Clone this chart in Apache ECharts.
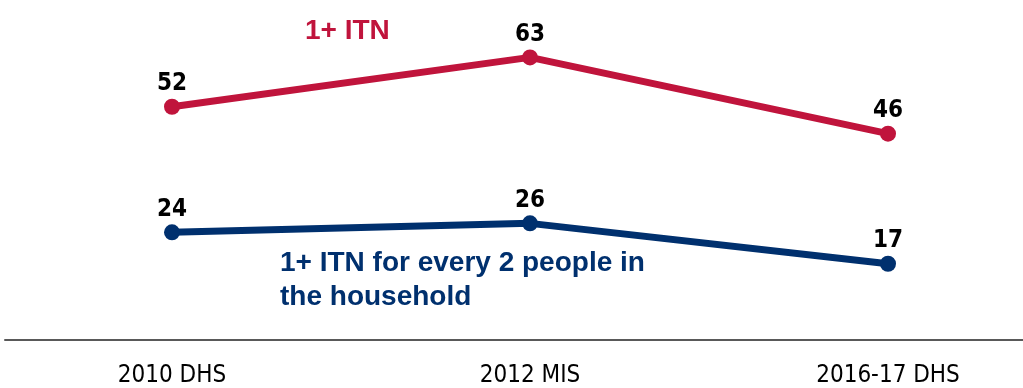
<!DOCTYPE html>
<html>
<head>
<meta charset="utf-8">
<script src="https://cdn.jsdelivr.net/npm/echarts@6/dist/echarts.min.js"></script>
<style>
  html, body { margin: 0; padding: 0; background: #fff; }
  #chart { width: 1023px; height: 388px; }
</style>
</head>
<body>
<div id="chart"></div>
<script>
// Survey rounds and household ITN ownership (%)
const categories = ['2010 DHS', '2012 MIS', '2016-17 DHS'];
const anyItn = [52, 63, 46];
const itnPerTwo = [24, 26, 17];
const seriesNames = ['1+ ITN', '1+ ITN for every 2 people in\nthe household'];

const RED = '#C0143C';
const NAVY = '#00306E';
const NARROW = '"Liberation Sans Narrow", "DejaVu Sans Condensed", sans-serif';

const chart = echarts.init(document.getElementById('chart'));

const valueLabel = {
  show: true,
  position: 'top',
  distance: 3,
  color: '#000',
  fontFamily: NARROW,
  fontWeight: 'bold',
  fontSize: 24
};

chart.setOption({
  animation: false,
  grid: [
    { left: 172, right: 135, top: 26, bottom: 48 },
    { left: 5, right: 0, top: 26, bottom: 48 }
  ],
  xAxis: [
    {
      type: 'category',
      gridIndex: 0,
      data: categories,
      boundaryGap: false,
      axisLine: { show: false },
      axisTick: { show: false },
      axisLabel: {
        margin: 24,
        color: '#000',
        fontFamily: NARROW,
        fontSize: 24
      }
    },
    {
      type: 'category',
      gridIndex: 1,
      data: [],
      axisLine: { show: true, lineStyle: { color: '#595959', width: 2 } },
      axisTick: { show: false },
      axisLabel: { show: false }
    }
  ],
  yAxis: [
    { type: 'value', gridIndex: 0, min: 0, max: 70, show: false },
    { type: 'value', gridIndex: 1, min: 0, max: 70, show: false }
  ],
  graphic: [
    {
      type: 'text',
      left: 305,
      top: 17,
      style: {
        text: seriesNames[0],
        fill: RED,
        font: 'bold 28px "Liberation Sans", Arial, sans-serif'
      }
    },
    {
      type: 'text',
      left: 280,
      top: 246,
      style: {
        text: seriesNames[1],
        fill: NAVY,
        lineHeight: 34,
        font: 'bold 28px "Liberation Sans", Arial, sans-serif'
      }
    }
  ],
  series: [
    {
      name: seriesNames[0],
      type: 'line',
      xAxisIndex: 0,
      yAxisIndex: 0,
      data: anyItn,
      symbol: 'circle',
      symbolSize: 16,
      lineStyle: { color: RED, width: 7 },
      itemStyle: { color: RED },
      label: valueLabel
    },
    {
      name: seriesNames[1],
      type: 'line',
      xAxisIndex: 0,
      yAxisIndex: 0,
      data: itnPerTwo,
      symbol: 'circle',
      symbolSize: 16,
      lineStyle: { color: NAVY, width: 7 },
      itemStyle: { color: NAVY },
      label: valueLabel
    }
  ]
});
</script>
</body>
</html>
